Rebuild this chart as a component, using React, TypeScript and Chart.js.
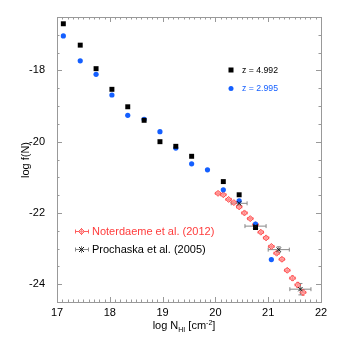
import { useEffect, useRef } from "react";
import { Chart, registerables } from "chart.js";
Chart.register(...registerables);

// z = 4.992 (black squares)
const z4992X = [17.12, 17.44, 17.74, 18.04, 18.34, 18.65, 18.95, 19.25, 19.55, 20.15, 20.45, 20.76];
const z4992Y = [-16.69, -17.29, -17.95, -18.53, -19.02, -19.4, -20.0, -20.13, -20.41, -21.12, -21.49, -22.41];
// z = 2.995 (blue circles)
const z2995X = [17.12, 17.44, 17.74, 18.04, 18.34, 18.65, 18.95, 19.25, 19.55, 19.85, 20.15, 20.45, 20.76, 21.06];
const z2995Y = [-17.03, -17.73, -18.11, -18.69, -19.26, -19.37, -19.72, -20.18, -20.62, -20.79, -21.35, -21.66, -22.31, -23.31];
// Noterdaeme et al. (2012)
const notX = [20.05, 20.15, 20.25, 20.35, 20.45, 20.55, 20.66, 20.76, 20.86, 20.96, 21.06, 21.16, 21.26, 21.36, 21.46, 21.56, 21.66];
const notY = [-21.45, -21.49, -21.62, -21.71, -21.83, -22.0, -22.16, -22.33, -22.54, -22.7, -22.94, -23.13, -23.3, -23.61, -23.83, -24.02, -24.23];
const notXErr = [0.05, 0.05, 0.05, 0.05, 0.05, 0.05, 0.05, 0.05, 0.05, 0.05, 0.05, 0.05, 0.05, 0.05, 0.05, 0.05, 0.05];
const notYErr = [0.04, 0.04, 0.04, 0.04, 0.04, 0.04, 0.04, 0.04, 0.04, 0.04, 0.04, 0.04, 0.05, 0.05, 0.06, 0.07, 0.08];
// Prochaska et al. (2005)
const proX = [20.45, 20.76, 21.2, 21.61];
const proY = [-21.73, -22.37, -23.03, -24.14];
const proXErr = [0.15, 0.2, 0.2, 0.2];
const proYErr = [0.06, 0.08, 0.08, 0.16];

const xTicks = [17, 18, 19, 20, 21, 22];
const yTicks = [-24, -22, -20, -18];
const xRange = [17, 22];
const yRange = [-24.5, -16.5];

const FONT = "'Liberation Sans', Arial, sans-serif";
const RED = "rgb(255,60,60)";
const BLUE = "rgb(20,95,255)";

const pts = (xs: number[], ys: number[]) => xs.map((x, i) => ({ x, y: ys[i] }));

function drawErr(ctx: CanvasRenderingContext2D, chart: any, xs: number[], ys: number[], xe: number[], ye: number[], color: string, cap: number) {
  const sx = chart.scales.x, sy = chart.scales.y;
  ctx.save();
  ctx.strokeStyle = color;
  ctx.lineWidth = 1;
  xs.forEach((x, i) => {
    const px = sx.getPixelForValue(x), py = sy.getPixelForValue(ys[i]);
    const x0 = sx.getPixelForValue(x - xe[i]), x1 = sx.getPixelForValue(x + xe[i]);
    const y0 = sy.getPixelForValue(ys[i] - ye[i]), y1 = sy.getPixelForValue(ys[i] + ye[i]);
    ctx.beginPath();
    ctx.moveTo(x0, py); ctx.lineTo(x1, py);
    ctx.moveTo(x0, py - cap); ctx.lineTo(x0, py + cap);
    ctx.moveTo(x1, py - cap); ctx.lineTo(x1, py + cap);
    ctx.moveTo(px, y0); ctx.lineTo(px, y1);
    ctx.moveTo(px - cap, y0); ctx.lineTo(px + cap, y0);
    ctx.moveTo(px - cap, y1); ctx.lineTo(px + cap, y1);
    ctx.stroke();
  });
  ctx.restore();
}

const framePlugin = {
  id: "frame",
  beforeDatasetsDraw(chart: any) {
    const ctx = chart.ctx as CanvasRenderingContext2D;
    drawErr(ctx, chart, notX, notY, notXErr, notYErr, "rgba(255,80,80,0.9)", 1.5);
    drawErr(ctx, chart, proX, proY, proXErr, proYErr, "#888", 2);
  },
  afterDraw(chart: any) {
    const ctx = chart.ctx as CanvasRenderingContext2D;
    const a = chart.chartArea;
    const sx = chart.scales.x, sy = chart.scales.y;
    ctx.save();
    ctx.strokeStyle = "#999";
    ctx.lineWidth = 1;
    ctx.strokeRect(Math.round(a.left) + 0.5, Math.round(a.top) + 0.5, Math.round(a.right - a.left), Math.round(a.bottom - a.top));
    ctx.beginPath();
    for (let k = 0; k <= 50; k++) {
      const v = xRange[0] + k * 0.1;
      const px = Math.round(sx.getPixelForValue(v)) + 0.5;
      const len = k % 10 === 0 ? 5 : 2.5;
      ctx.moveTo(px, a.bottom); ctx.lineTo(px, a.bottom - len);
      ctx.moveTo(px, a.top); ctx.lineTo(px, a.top + len);
    }
    for (let k = 0; k <= 16; k++) {
      const v = yRange[0] + k * 0.5;
      const py = Math.round(sy.getPixelForValue(v)) + 0.5;
      const len = Math.abs(v % 2) < 1e-6 ? 5 : 2.5;
      ctx.moveTo(a.left, py); ctx.lineTo(a.left + len, py);
      ctx.moveTo(a.right, py); ctx.lineTo(a.right - len, py);
    }
    ctx.stroke();

    // axis titles
    ctx.fillStyle = "#000";
    ctx.textBaseline = "alphabetic";
    const f = `11px ${FONT}`, fs = `7px ${FONT}`;
    const parts: [string, string, number][] = [["log N", f, 0], ["HI", fs, 2.5], [" [cm", f, 0], ["-2", fs, -4], ["]", f, 0]];
    let total = 0;
    parts.forEach(([t, ff]) => { ctx.font = ff; total += ctx.measureText(t).width; });
    let cx = 184 - total / 2;
    const by = 329;
    parts.forEach(([t, ff, dy]) => { ctx.font = ff; ctx.fillText(t, cx, by + dy); cx += ctx.measureText(t).width; });

    ctx.save();
    ctx.translate(29, 160);
    ctx.rotate(-Math.PI / 2);
    ctx.font = f;
    ctx.textAlign = "center";
    ctx.fillText("log f(N)", 0, 0);
    ctx.restore();

    // legends
    ctx.textBaseline = "middle";
    ctx.textAlign = "left";
    ctx.font = `8.7px ${FONT}`;
    ctx.fillStyle = "#000";
    ctx.fillRect(228.5, 67.5, 5, 5);
    ctx.fillText("z = 4.992", 242, 70.5);
    ctx.fillStyle = BLUE;
    ctx.beginPath(); ctx.arc(231, 88.5, 2.5, 0, Math.PI * 2); ctx.fill();
    ctx.fillText("z = 2.995", 242, 88.5);

    ctx.font = `11px ${FONT}`;
    // Noterdaeme legend marker
    const lx = 81.5;
    ctx.strokeStyle = "rgba(255,80,80,0.9)";
    ctx.beginPath();
    ctx.moveTo(75.5, 231.5); ctx.lineTo(88.5, 231.5);
    ctx.moveTo(75.5, 229.5); ctx.lineTo(75.5, 233.5);
    ctx.moveTo(88.5, 229.5); ctx.lineTo(88.5, 233.5);
    ctx.moveTo(lx, 228); ctx.lineTo(lx, 235);
    ctx.stroke();
    ctx.beginPath();
    ctx.moveTo(lx, 228.5); ctx.lineTo(lx + 3, 231.5); ctx.lineTo(lx, 234.5); ctx.lineTo(lx - 3, 231.5); ctx.closePath();
    ctx.fillStyle = "rgba(255,170,170,0.6)"; ctx.fill(); ctx.stroke();
    ctx.fillStyle = RED;
    ctx.fillText("Noterdaeme et al. (2012)", 92, 231.5);
    // Prochaska legend marker
    ctx.strokeStyle = "#888";
    ctx.beginPath();
    ctx.moveTo(75.5, 249.5); ctx.lineTo(88.5, 249.5);
    ctx.moveTo(75.5, 247.5); ctx.lineTo(75.5, 251.5);
    ctx.moveTo(88.5, 247.5); ctx.lineTo(88.5, 251.5);
    ctx.moveTo(lx, 246); ctx.lineTo(lx, 253);
    ctx.stroke();
    ctx.strokeStyle = "#111";
    ctx.beginPath();
    ctx.moveTo(lx - 2.5, 247); ctx.lineTo(lx + 2.5, 252);
    ctx.moveTo(lx + 2.5, 247); ctx.lineTo(lx - 2.5, 252);
    ctx.stroke();
    ctx.fillStyle = "#000";
    ctx.fillText("Prochaska et al. (2005)", 92, 249.5);
    ctx.restore();
  },
};

export default function App() {
  const ref = useRef<HTMLCanvasElement>(null);
  useEffect(() => {
    document.body.style.margin = "0";
    const chart = new Chart(ref.current!, {
      type: "scatter",
      data: {
        datasets: [
          {
            label: "Prochaska et al. (2005)",
            data: pts(proX, proY),
            pointStyle: "crossRot",
            radius: 3,
            borderColor: "#111",
            borderWidth: 1,
            order: 0,
          },
          {
            label: "z = 4.992",
            data: pts(z4992X, z4992Y),
            pointStyle: "rect",
            radius: 3.5,
            backgroundColor: "#000",
            borderColor: "#000",
            borderWidth: 0,
            order: 1,
          },
          {
            label: "z = 2.995",
            data: pts(z2995X, z2995Y),
            pointStyle: "circle",
            radius: 2.6,
            backgroundColor: BLUE,
            borderColor: BLUE,
            borderWidth: 0,
            order: 2,
          },
          {
            label: "Noterdaeme et al. (2012)",
            data: pts(notX, notY),
            pointStyle: "rectRot",
            radius: 3,
            backgroundColor: "rgba(255,170,170,0.6)",
            borderColor: "rgba(255,70,70,0.9)",
            borderWidth: 1,
            order: 3,
          },
        ] as any,
      },
      options: {
        animation: false,
        responsive: false,
        layout: { padding: { left: 0, top: 17, right: 17, bottom: 0 } },
        plugins: { legend: { display: false }, tooltip: { enabled: false } },
        scales: {
          x: {
            type: "linear",
            min: xRange[0],
            max: xRange[1],
            afterBuildTicks: (s: any) => { s.ticks = xTicks.map((v) => ({ value: v })); },
            afterFit: (s: any) => { s.height = 36; },
            ticks: { color: "#000", font: { family: FONT, size: 11 }, padding: -4, maxRotation: 0 },
            grid: { display: false },
            border: { display: false },
          },
          y: {
            type: "linear",
            min: yRange[0],
            max: yRange[1],
            afterBuildTicks: (s: any) => { s.ticks = yTicks.map((v) => ({ value: v })); },
            afterFit: (s: any) => { s.width = 57; },
            ticks: { color: "#000", font: { family: FONT, size: 11 }, padding: 4 },
            grid: { display: false },
            border: { display: false },
          },
        },
      },
      plugins: [framePlugin],
    });
    return () => chart.destroy();
  }, []);
  return (
    <div style={{ width: 338, height: 338 }}>
      <canvas ref={ref} width={338} height={338} style={{ display: "block" }} />
    </div>
  );
}
